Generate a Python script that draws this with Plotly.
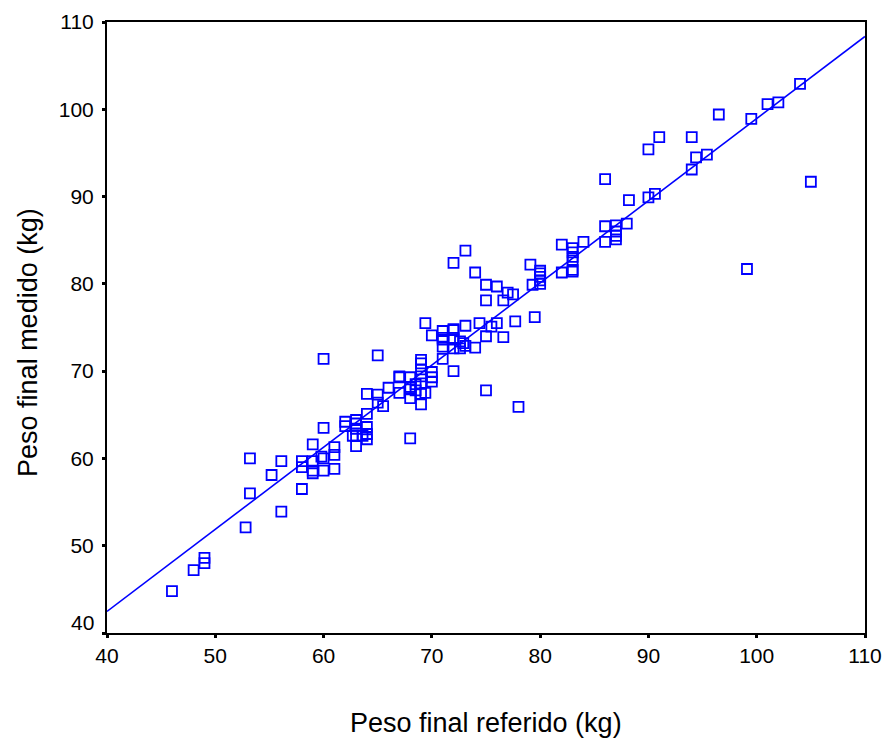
import numpy as np
import plotly.graph_objects as go

# peso referido (x) / peso medido (y)
peso_referido = [
    46, 48, 49, 49, 52.8, 53.2, 53.2, 55.2, 56.1, 56.1,
    58, 58, 58, 59, 59, 59, 59, 59.8, 60, 60, 60, 60,
    61, 61, 61, 62, 62, 63, 63, 63, 63, 63, 62.7, 63.6,
    64, 64, 64, 64, 64, 65, 65, 65, 65.5, 66,
    67, 67, 67, 68, 68, 68, 68, 68, 68.5, 68.5,
    69, 69, 69, 69, 69, 69, 69, 69.4, 69.4,
    70, 70, 70, 70, 71, 71, 71, 71, 71,
    72, 72, 72, 72, 72, 72, 72, 72.6, 72.6, 72.9,
    73.1, 73.1, 73.1, 74, 74, 74.4, 75, 75, 75, 75, 75.5,
    76, 76, 76.6, 76.6, 77, 77.5, 77.7, 78, 79.1, 79.3, 79.5,
    80, 80, 80, 80, 80, 82, 82, 83, 83, 83, 83, 83, 83, 84,
    86, 86, 86, 87, 87, 87, 87, 88, 88.2, 90, 90, 90.6, 91,
    94, 94, 94.4, 95.4, 96.5, 99.1, 99.5, 101, 102, 104, 105,
]
peso_medido = [
    44.8, 47.2, 48.6, 48.0, 52.1, 56.0, 60.0, 58.1, 53.9, 59.7,
    56.5, 59.7, 59.0, 61.6, 59.7, 58.6, 58.3, 60.2, 71.4, 63.5, 60.0, 58.6,
    61.3, 60.4, 58.8, 64.2, 63.7, 64.4, 64.0, 63.4, 62.6, 61.4, 62.6, 62.6,
    65.1, 63.6, 62.8, 62.2, 67.4, 71.8, 67.3, 66.4, 66.0, 68.1,
    69.3, 67.5, 69.4, 69.3, 67.9, 66.9, 62.3, 68.2, 68.5, 67.8,
    71.3, 70.9, 70.2, 69.4, 67.4, 66.2, 68.6, 67.5, 75.5,
    69.9, 69.3, 74.1, 68.8, 72.8, 73.8, 71.4, 74.6, 73.6,
    74.7, 73.8, 72.6, 70.0, 82.4, 74.8, 73.6, 73.4, 72.6, 73.2,
    83.8, 75.2, 72.9, 81.3, 72.7, 75.5, 79.9, 78.1, 74.0, 67.8, 75.1,
    79.7, 75.5, 78.1, 73.9, 79.0, 78.8, 75.7, 65.9, 82.2, 79.9, 76.2,
    81.5, 81.2, 80.8, 80.4, 80.0, 84.5, 81.3, 84.1, 83.6, 83.1, 82.7, 81.6, 81.4, 84.8,
    84.8, 86.6, 92.0, 86.7, 86.0, 85.5, 85.1, 86.9, 89.6, 89.9, 95.4, 90.3, 96.8,
    96.8, 93.1, 94.5, 94.8, 99.4, 81.7, 98.9, 100.6, 100.8, 102.9, 91.7,
]

ticks = [40, 50, 60, 70, 80, 90, 100, 110]
ticks_y_texto = ["", "50", "60", "70", "80", "90", "100", "110"]  # el 40 va aparte, algo más arriba
azul = "#0000ff"
fuente = "Liberation Sans, Arial, sans-serif"

# recta de regresión ajustada a los datos
pend, inter = np.polyfit(peso_referido, peso_medido, 1)
x_linea = np.array([40, 110])

fig = go.Figure()
fig.add_trace(go.Scatter(
    x=x_linea, y=pend * x_linea + inter, mode="lines",
    line=dict(color=azul, width=1.6), hoverinfo="skip",
))
fig.add_trace(go.Scatter(
    x=peso_referido, y=peso_medido, mode="markers",
    marker=dict(symbol="square-open", size=10, color=azul, line=dict(width=1.8, color=azul)),
))

ejes = dict(
    range=[40, 110], tickvals=ticks, showgrid=False, zeroline=False,
    showline=True, linecolor="black", linewidth=2, mirror=True,
    ticks="outside", ticklen=3, tickwidth=3, tickcolor="black",
    tickfont=dict(family=fuente, size=21, color="black"),
    automargin=False,
)
fig.update_xaxes(**ejes)
fig.update_yaxes(**ejes, ticktext=ticks_y_texto, ticklabelstandoff=4)

fig.update_layout(
    width=885, height=738,
    margin=dict(l=107, r=20, t=22, b=105),
    plot_bgcolor="white", paper_bgcolor="white",
    showlegend=False,
    font=dict(family=fuente, color="black"),
    annotations=[
        dict(text="40", x=0, y=40, xref="paper", yref="y", xanchor="right", yanchor="middle",
             xshift=-11, yshift=11, showarrow=False, font=dict(size=21)),
        dict(text="Peso final referido (kg)", x=0.5, y=-0.148, xref="paper", yref="paper",
             xanchor="center", yanchor="middle", showarrow=False, font=dict(size=27)),
        dict(text="Peso final medido (kg)", x=-0.104, y=0.475, xref="paper", yref="paper",
             xanchor="center", yanchor="middle", textangle=-90, showarrow=False, font=dict(size=27)),
    ],
)

# sin el margen por defecto del navegador el lienzo ocupa justo la ventana
fig.write_html(
    "out.html",
    config={"displayModeBar": False},
    post_script="document.body.style.margin='0';document.body.style.overflow='hidden';",
)
